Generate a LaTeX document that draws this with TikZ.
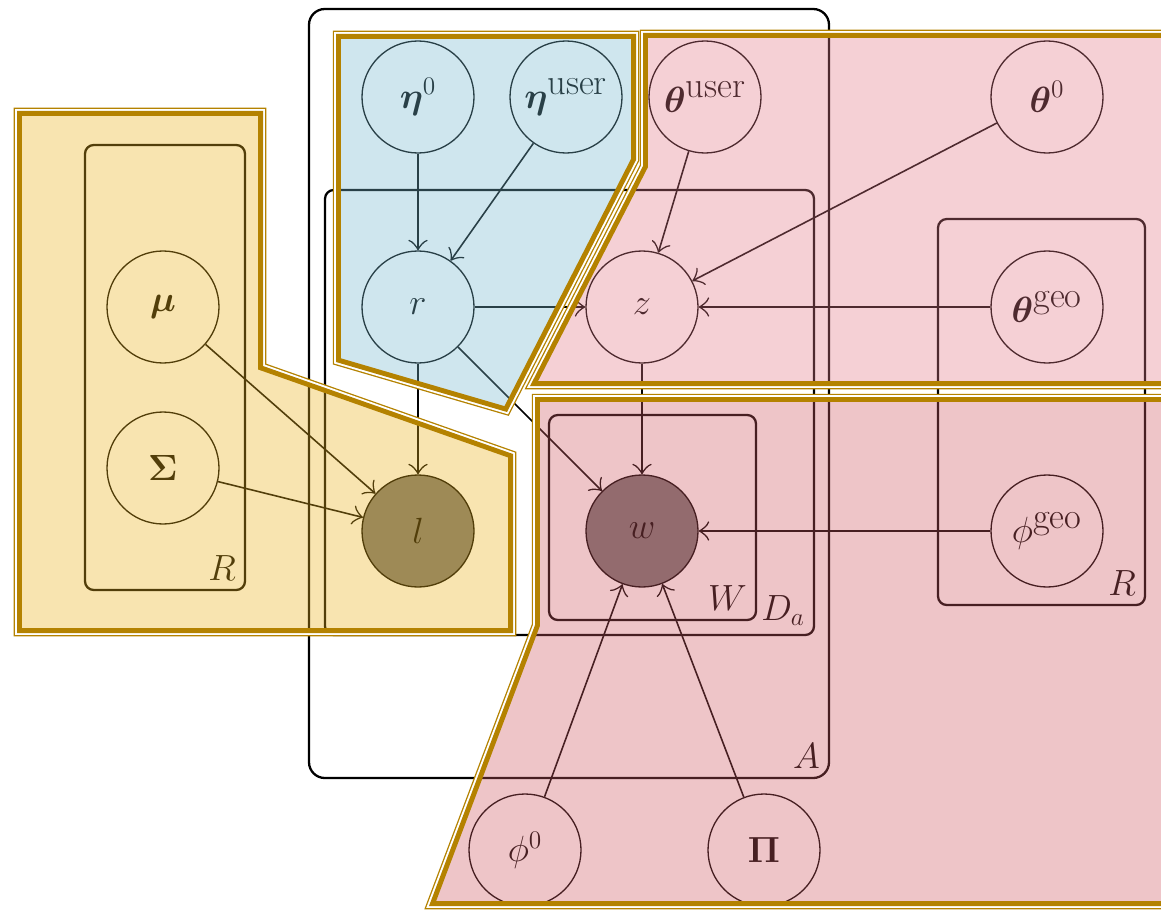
\documentclass[tikz,border=0pt]{standalone}
\usepackage{amsmath,amssymb}
\usepackage{tikz}
\usetikzlibrary{arrows.meta,positioning}
\definecolor{hlgold}{RGB}{180,130,0}
\definecolor{hlyellow}{RGB}{235,178,29}
\definecolor{hlblue}{RGB}{118,184,206}
\definecolor{hlpink}{RGB}{226,121,135}
\definecolor{hlrose}{RGB}{205,90,98}
\tikzset{
  rv/.style={circle,draw,line width=0.75pt,minimum size=2.24cm,inner sep=0pt,font=\huge},
  obs/.style={rv,fill=black!54},
  plate/.style={draw,line width=1.3pt,rounded corners=5pt},
  platelabel/.style={anchor=south east,inner sep=5pt,font=\huge},
  arr/.style={-{Classical TikZ Rightarrow[length=6pt,width=11pt]},line width=0.9pt},
  zonefill/.style={fill opacity=0.35},
  zoneout/.style={draw=hlgold,line width=3.7pt},
  zonegap/.style={draw=white,line width=2.2pt},
  zonein/.style={draw=hlgold,line width=5.6pt},
}
% highlighted zone: fill colour, open polygon
\newcommand{\hlzone}[2]{%
  \fill[#1,zonefill] #2 -- cycle;
  \draw[zoneout] #2 -- cycle;
  \draw[zonegap] #2 -- cycle;
  \begin{scope}
    \clip #2 -- cycle;
    \draw[zonein] #2 -- cycle;
  \end{scope}}

\begin{document}
\begin{tikzpicture}[on grid,node distance=4.48cm]
  \useasboundingbox (0,0) rectangle (23.22,-18.22);

  % variables
  \node[rv] (r) at (8.36,-6.14) {$r$};
  \node[rv,above=4.2cm of r] (eta0) {$\boldsymbol{\eta}^{0}$};
  \node[rv,right=2.96cm of eta0] (etau) {$\boldsymbol{\eta}^{\mbox{user}}$};
  \node[rv,right=2.78cm of etau] (thu) {$\boldsymbol{\theta}^{\mbox{user}}$};
  \node[rv,right=6.84cm of thu] (th0) {$\boldsymbol{\theta}^{0}$};
  \node[rv,right=of r] (z) {$z$};
  \node[rv,right=8.1cm of z] (thg) {$\boldsymbol{\theta}^{\mbox{geo}}$};
  \node[obs,below=of r] (l) {$l$};
  \node[obs,below=of z] (w) {$w$};
  \node[rv,below=of thg] (phg) {$\phi^{\mbox{geo}}$};
  \node[rv,left=5.1cm of r] (mu) {$\boldsymbol{\mu}$};
  \node[rv,below=3.22cm of mu] (sig) {$\boldsymbol{\Sigma}$};
  \node[rv,below left=6.38cm and 2.34cm of w] (ph0) {$\phi^{0}$};
  \node[rv,right=4.78cm of ph0] (pi) {$\boldsymbol{\Pi}$};

  % plates
  \draw[plate] (1.70,-2.90) rectangle (4.90,-11.80);
  \node[platelabel] (rlab) at (4.90,-11.80) {$R$};
  \draw[plate,rounded corners=9pt] (6.18,-0.18) rectangle (16.58,-15.56);
  \node[platelabel] (alab) at (16.58,-15.56) {$A$};
  \draw[plate] (6.50,-3.80) rectangle (16.28,-12.70);
  \node[platelabel] (dlab) at (16.28,-12.70) {$D_a$};
  \draw[plate] (10.98,-8.30) rectangle (15.12,-12.40);
  \node[platelabel] (wlab) at (15.12,-12.40) {$W$};
  \draw[plate] (18.76,-4.38) rectangle (22.90,-12.10);
  \node[platelabel] (rrlab) at (22.90,-12.10) {$R$};

  % edges
  \draw[arr] (eta0) -- (r);
  \draw[arr] (etau) -- (r);
  \draw[arr] (thu) -- (z);
  \draw[arr] (th0) -- (z);
  \draw[arr] (thg) -- (z);
  \draw[arr] (r) -- (z);
  \draw[arr] (r) -- (l);
  \draw[arr] (r) -- (w);
  \draw[arr] (mu) -- (l);
  \draw[arr] (sig) -- (l);
  \draw[arr] (z) -- (w);
  \draw[arr] (phg) -- (w);
  \draw[arr] (ph0) -- (w);
  \draw[arr] (pi) -- (w);

  % highlighted zones
  \hlzone{hlyellow}{(0.34,-2.22) -- (5.26,-2.22) -- (5.26,-7.32) -- (10.26,-9.08) -- (10.26,-12.66) -- (0.34,-12.66)}
  \hlzone{hlblue}{(6.72,-0.68) -- (12.72,-0.68) -- (12.72,-3.20) -- (10.14,-8.24) -- (6.72,-7.24)}
  \hlzone{hlpink}{(12.86,-0.66) -- (23.6,-0.66) -- (23.6,-7.72) -- (10.60,-7.72) -- (12.86,-3.32)}
  \hlzone{hlrose}{(10.70,-7.94) -- (23.6,-7.94) -- (23.6,-18.12) -- (8.58,-18.12) -- (10.70,-12.50)}
\end{tikzpicture}
\end{document}
